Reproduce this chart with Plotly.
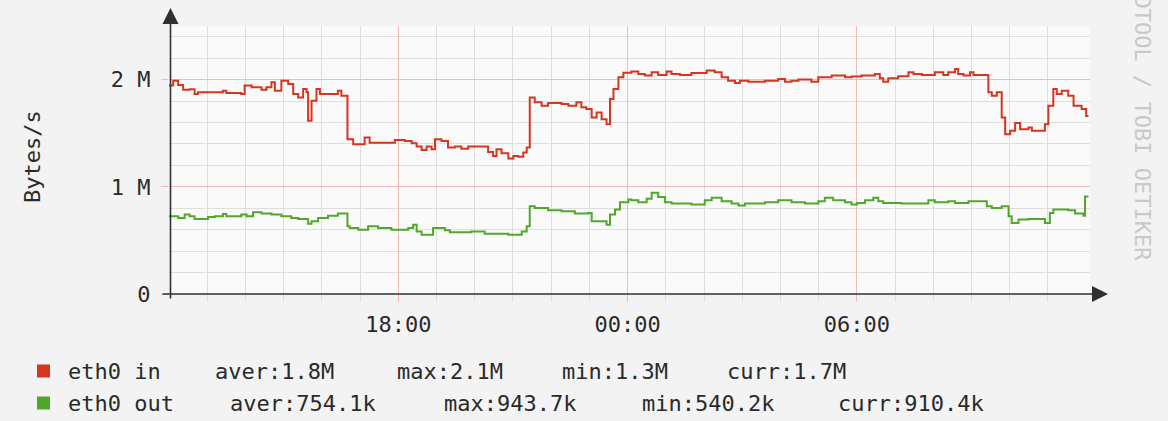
import pandas as pd
import plotly.graph_objects as go

# ---- data (hours after 12:00, MB/s) ----------------------------------

START = pd.Timestamp("2024-03-11 12:00")
SPAN_HOURS = 24.1

IN_HOURS = [
    0.00, 0.11, 0.24, 0.37, 0.54, 0.67, 0.76, 1.41, 1.50, 1.89, 1.98, 2.16,
    2.42, 2.55, 2.68, 2.77, 2.94, 3.12, 3.25, 3.38, 3.51, 3.60, 3.64, 3.73,
    3.86, 3.95, 4.42, 4.51, 4.67, 4.82, 5.12, 5.25, 5.91, 6.17, 6.35, 6.48,
    6.61, 6.74, 6.87, 6.96, 7.13, 7.30, 7.48, 7.65, 7.83, 8.35, 8.48, 8.57,
    8.70, 8.88, 9.01, 9.14, 9.27, 9.36, 9.44, 9.57, 9.75, 9.92, 10.27, 10.45,
    10.66, 10.79, 10.92, 11.06, 11.19, 11.32, 11.45, 11.54, 11.63, 11.76,
    11.89, 12.10, 12.28, 12.45, 12.63, 12.80, 13.02, 13.15, 13.37, 13.67,
    14.07, 14.28, 14.46, 14.63, 14.81, 14.94, 15.16, 15.59, 15.94, 16.12,
    16.29, 16.47, 16.81, 16.99, 17.34, 17.69, 17.86, 18.12, 18.47, 18.60,
    18.69, 18.82, 19.08, 19.35, 19.48, 19.70, 20.04, 20.26, 20.39, 20.57,
    20.65, 20.79, 20.96, 21.05, 21.44, 21.53, 21.66, 21.79, 21.88, 22.01,
    22.14, 22.27, 22.49, 22.58, 22.92, 23.01, 23.14, 23.23, 23.36, 23.53,
    23.67, 23.88, 24.00, 24.06,
]
IN_MBPS = [
    1.944, 1.990, 1.950, 1.906, 1.910, 1.866, 1.881, 1.897, 1.875, 1.866,
    1.944, 1.928, 1.906, 1.928, 1.975, 1.897, 1.990, 1.960, 1.866, 1.834,
    1.912, 1.881, 1.616, 1.803, 1.912, 1.866, 1.897, 1.850, 1.444, 1.397,
    1.460, 1.410, 1.437, 1.428, 1.406, 1.375, 1.344, 1.375, 1.350, 1.444,
    1.428, 1.366, 1.375, 1.356, 1.375, 1.325, 1.288, 1.350, 1.313, 1.263,
    1.288, 1.281, 1.319, 1.366, 1.834, 1.788, 1.756, 1.781, 1.772, 1.756,
    1.788, 1.741, 1.725, 1.647, 1.694, 1.631, 1.584, 1.819, 1.913, 2.022,
    2.063, 2.075, 2.053, 2.038, 2.069, 2.044, 2.075, 2.053, 2.044, 2.062,
    2.084, 2.069, 2.022, 1.990, 1.969, 1.990, 1.981, 1.990, 2.006, 1.981,
    1.990, 2.000, 1.981, 2.022, 2.038, 2.022, 2.028, 2.038, 2.053, 2.013,
    1.981, 2.013, 2.031, 2.069, 2.053, 2.044, 2.069, 2.044, 2.069, 2.100,
    2.053, 2.038, 2.069, 2.044, 1.881, 1.850, 1.881, 1.647, 1.491, 1.522,
    1.594, 1.538, 1.553, 1.522, 1.584, 1.756, 1.913, 1.866, 1.897, 1.850,
    1.756, 1.725, 1.660, 1.660,
]

OUT_HOURS = [
    0.00, 0.24, 0.41, 0.54, 0.67, 1.02, 1.20, 1.41, 1.50, 1.89, 2.03, 2.20,
    2.42, 2.68, 2.94, 3.20, 3.38, 3.64, 3.73, 3.90, 4.16, 4.42, 4.67, 4.73,
    4.95, 5.21, 5.47, 5.82, 6.26, 6.39, 6.48, 6.61, 6.91, 7.22, 7.35, 7.91,
    8.26, 8.88, 9.23, 9.36, 9.44, 9.57, 9.92, 10.27, 10.62, 10.97, 11.06,
    11.45, 11.54, 11.67, 11.80, 12.02, 12.10, 12.28, 12.50, 12.63, 12.80,
    12.98, 13.15, 13.67, 14.02, 14.20, 14.46, 14.72, 14.90, 15.07, 15.59,
    15.94, 16.29, 16.64, 16.99, 17.16, 17.38, 17.69, 17.86, 18.00, 18.21,
    18.43, 18.56, 18.69, 19.17, 19.87, 20.04, 20.39, 20.57, 20.92, 21.40,
    21.53, 21.79, 21.97, 22.05, 22.23, 22.49, 22.92, 23.05, 23.14, 23.53,
    23.71, 23.93, 23.97, 24.06,
]
OUT_MBPS = [
    0.725, 0.709, 0.741, 0.725, 0.700, 0.719, 0.725, 0.747, 0.725, 0.741,
    0.725, 0.763, 0.750, 0.741, 0.725, 0.709, 0.700, 0.656, 0.678, 0.709,
    0.731, 0.750, 0.631, 0.616, 0.600, 0.631, 0.616, 0.600, 0.616, 0.647,
    0.584, 0.553, 0.616, 0.594, 0.575, 0.584, 0.563, 0.553, 0.584, 0.631,
    0.819, 0.803, 0.781, 0.772, 0.750, 0.756, 0.678, 0.647, 0.741, 0.788,
    0.856, 0.881, 0.875, 0.856, 0.888, 0.944, 0.906, 0.856, 0.844, 0.834,
    0.875, 0.897, 0.866, 0.844, 0.825, 0.844, 0.856, 0.875, 0.856, 0.844,
    0.866, 0.897, 0.875, 0.856, 0.834, 0.850, 0.875, 0.897, 0.866, 0.850,
    0.844, 0.875, 0.856, 0.866, 0.850, 0.866, 0.819, 0.803, 0.819, 0.725,
    0.663, 0.694, 0.700, 0.663, 0.756, 0.788, 0.781, 0.750, 0.731, 0.910,
    0.910,
]

X_TICK_HOURS = [6, 12, 18]
X_TICK_LABELS = ["18:00", "00:00", "06:00"]
Y_TICKS = [0, 1e6, 2e6]
Y_TICK_LABELS = ["0", "1 M", "2 M"]

LEGEND_ROWS = [
    ("#d4361f", ["eth0 in", "aver:1.8M", "max:2.1M", "min:1.3M", "curr:1.7M"]),
    ("#50a82a", ["eth0 out", "aver:754.1k", "max:943.7k", "min:540.2k", "curr:910.4k"]),
]
LEGEND_COLS = [
    [66, 213, 395, 560, 725],
    [66, 228, 442, 640, 836],
]

FONT = "DejaVu Sans Mono"
W, H = 1168, 421
L, R, T, B = 169, 78, 26, 127
PW, PH = W - L - R, H - T - B


def px(x):
    return (x - L) / PW


def py(y):
    return (T + PH - y) / PH


def to_time(hours):
    return START + pd.to_timedelta(hours, unit="h")


fig = go.Figure()
for name, hrs, vals, color in [
    ("eth0 in", IN_HOURS, IN_MBPS, LEGEND_ROWS[0][0]),
    ("eth0 out", OUT_HOURS, OUT_MBPS, LEGEND_ROWS[1][0]),
]:
    fig.add_trace(go.Scatter(
        x=to_time(hrs), y=[v * 1e6 for v in vals],
        mode="lines", line=dict(color=color, width=2, shape="hv"),
        name=name, showlegend=False,
    ))

minor_x = [to_time(h) for h in range(1, 25) if h % 6]
fig.update_xaxes(
    type="date",
    range=[START, to_time(SPAN_HOURS)],
    tickmode="array",
    tickvals=[to_time(h) for h in X_TICK_HOURS],
    ticktext=X_TICK_LABELS,
    showgrid=True, gridcolor="#efbcbc", gridwidth=1,
    ticks="outside", ticklen=7, tickcolor="#efbcbc",
    minor=dict(tickmode="array", tickvals=minor_x, showgrid=True,
               gridcolor="#dedede", ticks="outside", ticklen=7,
               tickcolor="#dedede"),
    zeroline=False, showline=False,
    tickfont=dict(family=FONT, size=22, color="#2a2a2a"),
    ticklabelstandoff=4,
)
fig.update_yaxes(
    range=[0, 2.5e6],
    tickmode="array",
    tickvals=Y_TICKS,
    ticktext=Y_TICK_LABELS,
    showgrid=True, gridcolor="#efbcbc", gridwidth=1,
    ticks="outside", ticklen=7, tickcolor="#efbcbc",
    minor=dict(tickmode="array",
               tickvals=[i * 0.2e6 for i in range(1, 13) if i % 5],
               showgrid=True, gridcolor="#dedede"),
    zeroline=False, showline=False,
    tickfont=dict(family=FONT, size=22, color="#2a2a2a"),
    ticklabelstandoff=6,
)

annotations = [
    # axis arrows
    dict(x=px(1108), y=0, xref="paper", yref="paper", ax=-947, ay=0,
         showarrow=True, arrowhead=2, arrowsize=2, arrowwidth=1.6,
         arrowcolor="#303030", text="", standoff=0),
    dict(x=px(170.5), y=py(8), xref="paper", yref="paper", ax=0, ay=292,
         showarrow=True, arrowhead=2, arrowsize=2, arrowwidth=1.6,
         arrowcolor="#303030", text="", standoff=0),
    # y axis title
    dict(x=px(32), y=py(157), xref="paper", yref="paper", text="Bytes/s",
         xanchor="center", yanchor="middle",
         textangle=-90, showarrow=False,
         font=dict(family=FONT, size=22, color="#2a2a2a")),
    # watermark (cut off at the top, as in rrdtool output)
    dict(x=px(1143), y=py(115), xref="paper", yref="paper",
         xanchor="center", yanchor="middle",
         text="RRDTOOL / TOBI OETIKER", textangle=90, showarrow=False,
         font=dict(family=FONT, size=22, color="#c9c9c9")),
]
shapes = []
for (color, fields), cols, row_y in zip(LEGEND_ROWS, LEGEND_COLS, [371, 403]):
    shapes.append(dict(type="rect", xref="paper", yref="paper",
                       x0=px(37), x1=px(50), y0=py(row_y + 6.5), y1=py(row_y - 6.5),
                       fillcolor=color, line=dict(width=0)))
    for text, cx in zip(fields, cols):
        annotations.append(dict(
            x=px(cx), y=py(row_y), xref="paper", yref="paper", text=text,
            xanchor="left", yanchor="middle", showarrow=False,
            font=dict(family=FONT, size=22, color="#2a2a2a"),
        ))

fig.update_layout(
    width=W, height=H,
    margin=dict(l=L, r=R, t=T, b=B),
    paper_bgcolor="#f3f3f3",
    plot_bgcolor="#fafafa",
    annotations=annotations,
    shapes=shapes,
)

fig.write_html("out.html",
               config={"displayModeBar": False},
               post_script="document.body.style.margin='0';"
                           "document.body.style.background='#f3f3f3';")
